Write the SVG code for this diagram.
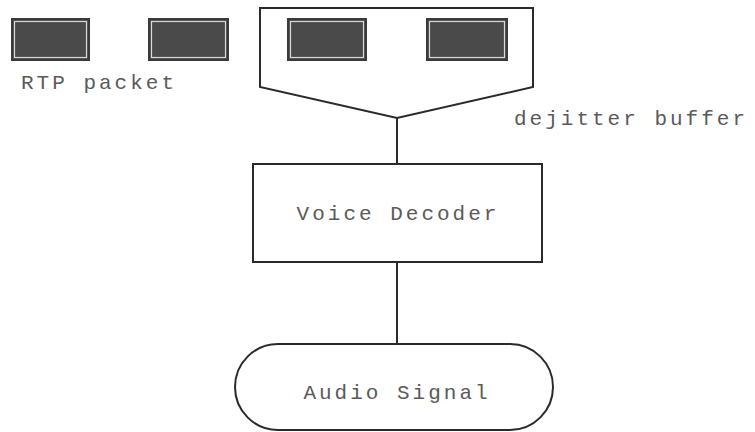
<svg xmlns="http://www.w3.org/2000/svg" width="755" height="432" viewBox="0 0 755 432">
<style>
.pk-o{fill:#4a4a4a;stroke:#3a3a3a;stroke-width:2}
.pk-i{fill:none;stroke:#d8d8d8;stroke-width:1.2}
.ln{fill:none;stroke:#2a2a2a;stroke-width:2}
.tx{font-family:"Liberation Mono","DejaVu Sans Mono",monospace;font-size:21px;letter-spacing:3px;fill:#5a5a5a}
</style>
<rect width="755" height="432" fill="#fff"/>
<g id="packet1"><rect class="pk-o" x="12" y="19" width="77" height="41"/><rect class="pk-i" x="14.5" y="21.5" width="72" height="36"/></g>
<g id="packet2"><rect class="pk-o" x="149" y="19" width="79" height="41"/><rect class="pk-i" x="151.5" y="21.5" width="74" height="36"/></g>
<g id="rtp-label"><text class="tx" x="21" y="89">RTP packet</text></g>
<g id="buffer">
<path class="ln" d="M260,8 L533,8 L533,87 L397,118 L260,87 Z"/>
<rect class="pk-o" x="288" y="19" width="78" height="41"/><rect class="pk-i" x="290.5" y="21.5" width="73" height="36"/>
<rect class="pk-o" x="427" y="19" width="80" height="41"/><rect class="pk-i" x="429.5" y="21.5" width="75" height="36"/>
</g>
<g id="buffer-label"><text class="tx" x="514" y="125">dejitter buffer</text></g>
<g id="decoder"><rect class="ln" x="253" y="164" width="289" height="98"/><text class="tx" x="398" y="220" text-anchor="middle">Voice Decoder</text></g>
<g id="audio"><rect class="ln" x="235" y="344" width="318" height="86" rx="43" ry="43"/><text class="tx" x="397" y="399" text-anchor="middle">Audio Signal</text></g>
<g id="connectors">
<line class="ln" x1="397" y1="118" x2="397" y2="164"/>
<line class="ln" x1="397" y1="262" x2="397" y2="344"/>
</g>
</svg>
